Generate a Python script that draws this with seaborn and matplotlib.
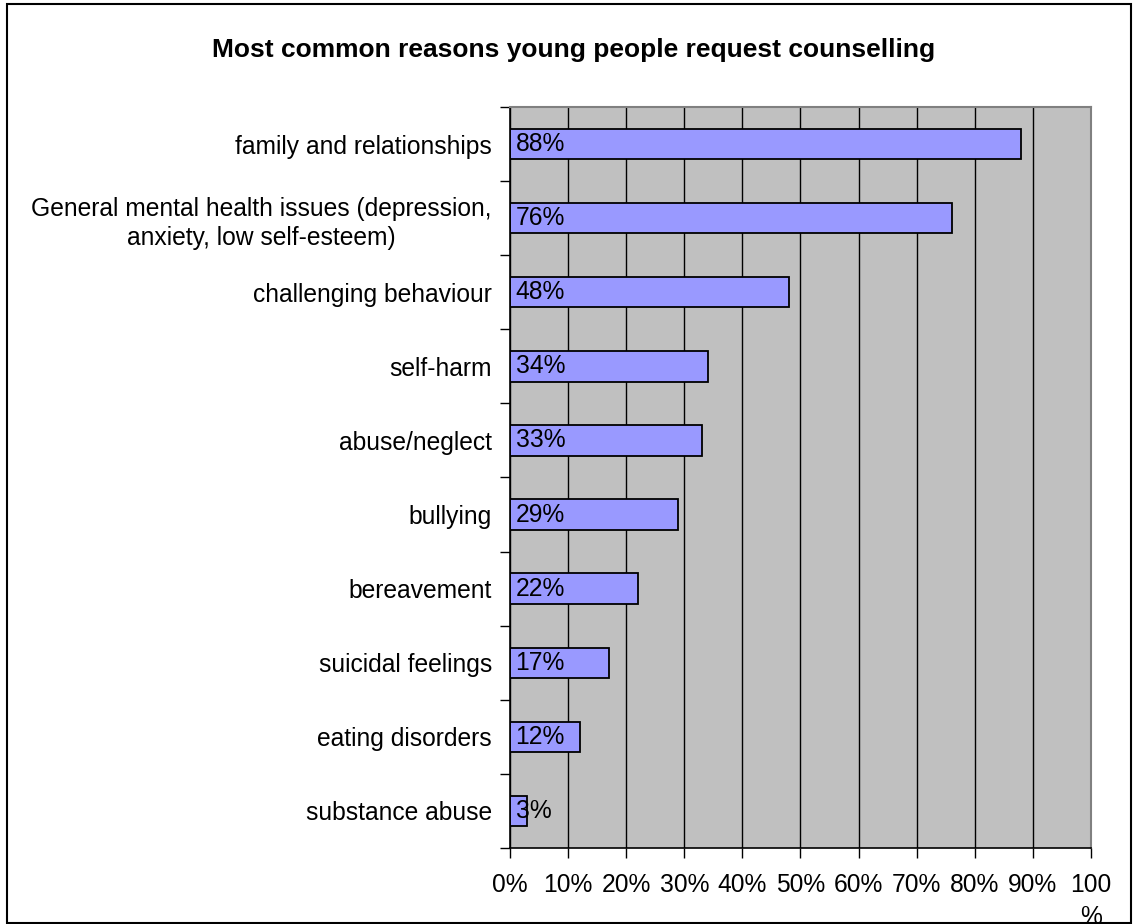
import matplotlib
matplotlib.use("Agg")
import matplotlib.pyplot as plt
from matplotlib.patches import Rectangle
from matplotlib.ticker import FixedLocator, FixedFormatter
import seaborn as sns
import pandas as pd

# Survey results: share of young people giving each reason (%)
reasons = [
    "family and relationships",
    "General mental health issues (depression,\nanxiety, low self-esteem)",
    "challenging behaviour",
    "self-harm",
    "abuse/neglect",
    "bullying",
    "bereavement",
    "suicidal feelings",
    "eating disorders",
    "substance abuse",
]
percent = [88, 76, 48, 34, 33, 29, 22, 17, 12, 3]
x_ticks = [0, 10, 20, 30, 40, 50, 60, 70, 80, 90, 100]
x_tick_labels = ["0%", "10%", "20%", "30%", "40%", "50%", "60%", "70%", "80%", "90%", "100\n%"]
title = "Most common reasons young people request counselling"

df = pd.DataFrame({"reason": reasons, "percent": percent})

sns.set_style("white")
plt.rcParams["font.family"] = ["Liberation Sans", "DejaVu Sans"]
plt.rcParams["text.color"] = "black"
plt.rcParams["xtick.color"] = "black"
plt.rcParams["ytick.color"] = "black"
plt.rcParams["xtick.labelcolor"] = "black"
plt.rcParams["ytick.labelcolor"] = "black"

fig = plt.figure(figsize=(11.33, 9.24), dpi=100)
ax = fig.add_axes([0.4501, 0.0823, 0.9629 - 0.4501, 0.8842 - 0.0823])
ax.set_facecolor("#C0C0C0")

sns.barplot(data=df, x="percent", y="reason", orient="h", color="#9999FF",
            saturation=1, edgecolor="black", linewidth=1.3, width=0.41, ax=ax)

ax.set_xlim(0, 100)
ax.set_ylim(len(reasons) - 0.5, -0.5)
ax.set_xlabel("")
ax.set_ylabel("")

# vertical gridlines
ax.set_axisbelow(True)
ax.xaxis.set_major_locator(FixedLocator(x_ticks))
ax.xaxis.set_major_formatter(FixedFormatter(x_tick_labels))
ax.grid(axis="x", color="black", linewidth=1.0)
ax.grid(axis="y", visible=False)

# y ticks sit at category boundaries, labels at category centres
ax.set_yticks(range(len(reasons)))
ax.set_yticklabels(reasons)
ax.yaxis.set_minor_locator(FixedLocator([i - 0.5 for i in range(len(reasons) + 1)]))
ax.tick_params(axis="y", which="major", length=0, pad=13, labelsize=17.7)
ax.tick_params(axis="y", which="minor", length=7, width=1, color="black", direction="out", left=True)
ax.tick_params(axis="x", which="major", length=7, width=1, color="black", direction="out",
               bottom=True, pad=11, labelsize=17.7)
for lbl in ax.get_yticklabels():
    lbl.set_multialignment("center")
    lbl.set_linespacing(1.3)
for lbl in ax.get_xticklabels():
    lbl.set_linespacing(1.4)

for side in ("left", "bottom"):
    ax.spines[side].set_color("black")
    ax.spines[side].set_linewidth(1.2)
for side in ("top", "right"):
    ax.spines[side].set_color("#808080")
    ax.spines[side].set_linewidth(1.5)

# value labels at the base of each bar
for i, v in enumerate(percent):
    ax.annotate(f"{v}%", xy=(0, i), xytext=(4, 0), textcoords="offset points",
                ha="left", va="center", fontsize=17.7, color="black")

fig.text(0.506, 0.946, title, ha="center", va="center", fontsize=19, fontweight="bold")

# outer frame
fig.patches.append(Rectangle((7 / 1133, 1 / 924), 1124 / 1133, 919 / 924, transform=fig.transFigure,
                             fill=False, edgecolor="black", linewidth=1.5))

fig.savefig("out.png", dpi=100)
